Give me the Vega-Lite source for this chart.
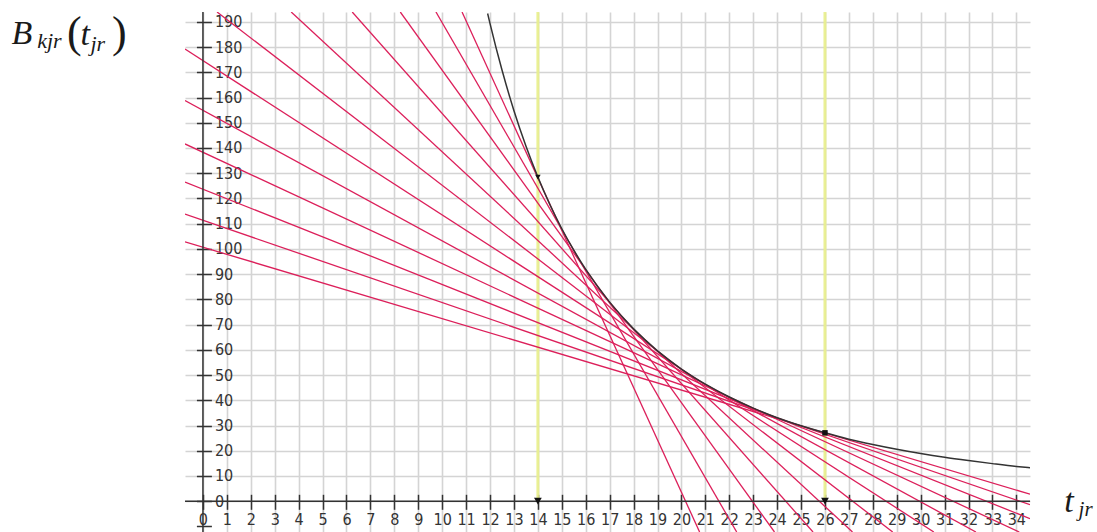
{
  "$schema": "https://vega.github.io/schema/vega-lite/v6.json",
  "autosize": "none",
  "width": 845,
  "height": 520,
  "padding": {"left": 185, "top": 12, "right": 67, "bottom": 0},
  "background": "white",
  "config": {"view": {"stroke": null}},
  "datasets": {
    "curve": [
      {"t": 11.9, "B": 193.3}, {"t": 12, "B": 189.3}, {"t": 12.5, "B": 170.9}, {"t": 13, "B": 154.8},
      {"t": 13.5, "B": 140.8}, {"t": 14, "B": 128.5}, {"t": 14.5, "B": 117.6}, {"t": 15, "B": 108.0},
      {"t": 15.5, "B": 99.5}, {"t": 16, "B": 91.9}, {"t": 17, "B": 78.9}, {"t": 18, "B": 68.3},
      {"t": 19, "B": 59.6}, {"t": 20, "B": 52.4}, {"t": 21, "B": 46.4}, {"t": 22, "B": 41.3},
      {"t": 23, "B": 36.9}, {"t": 24, "B": 33.1}, {"t": 25, "B": 29.9}, {"t": 26, "B": 27.1},
      {"t": 27, "B": 24.6}, {"t": 28, "B": 22.5}, {"t": 29, "B": 20.6}, {"t": 30, "B": 18.9},
      {"t": 31, "B": 17.4}, {"t": 32, "B": 16.1}, {"t": 33, "B": 14.9}, {"t": 34, "B": 13.8},
      {"t": 34.57, "B": 13.3}
    ],
    "tangents": [
      {"line": 1, "t": 10.83, "B": 193.9}, {"line": 1, "t": 20.76, "B": -12.2},
      {"line": 2, "t": 9.74, "B": 193.9}, {"line": 2, "t": 22.31, "B": -12.2},
      {"line": 3, "t": 8.25, "B": 193.9}, {"line": 3, "t": 23.89, "B": -12.2},
      {"line": 4, "t": 6.24, "B": 193.9}, {"line": 4, "t": 25.5, "B": -12.2},
      {"line": 5, "t": 3.69, "B": 193.9}, {"line": 5, "t": 27.15, "B": -12.2},
      {"line": 6, "t": 0.59, "B": 193.9}, {"line": 6, "t": 28.83, "B": -12.2},
      {"line": 7, "t": -0.75, "B": 179.2}, {"line": 7, "t": 30.55, "B": -12.2},
      {"line": 8, "t": -0.75, "B": 158.8}, {"line": 8, "t": 32.31, "B": -12.2},
      {"line": 9, "t": -0.75, "B": 141.6}, {"line": 9, "t": 34.12, "B": -12.2},
      {"line": 10, "t": -0.75, "B": 126.5}, {"line": 10, "t": 34.57, "B": -6.9},
      {"line": 11, "t": -0.75, "B": 113.8}, {"line": 11, "t": 34.57, "B": -1.4},
      {"line": 12, "t": -0.75, "B": 102.8}, {"line": 12, "t": 34.57, "B": 2.8}
    ],
    "marks": [
      {"t": 14, "B": 128.5, "kind": "arrow"},
      {"t": 26, "B": 27.1, "kind": "point"}
    ],
    "one": [{}]
  },
  "layer": [
    {
      "data": {"name": "marks"},
      "mark": {"type": "rule", "color": "#e9f08c", "strokeWidth": 3, "opacity": 0.9},
      "encoding": {
        "x": {"field": "t", "type": "quantitative", "scale": {"domain": [-0.75, 34.57], "nice": false}, "axis": null},
        "y": {"datum": 0, "type": "quantitative", "scale": {"domain": [-12.2, 193.9], "nice": false}, "axis": null},
        "y2": {"datum": 193.9}
      }
    },
    {
      "data": {"name": "tangents"},
      "mark": {"type": "line", "color": "#dc1f5a", "strokeWidth": 1.3, "clip": true},
      "encoding": {
        "x": {"field": "t", "type": "quantitative", "scale": {"domain": [-0.75, 34.57], "nice": false},
          "axis": {"orient": "bottom", "offset": -37.7, "values": [0,1,2,3,4,5,6,7,8,9,10,11,12,13,14,15,16,17,18,19,20,21,22,23,24,25,26,27,28,29,30,31,32,33,34],
            "grid": false, "domain": false, "ticks": true, "tickSize": 15, "tickWidth": 1.5, "tickColor": "#333",
            "labels": true, "labelFont": "DejaVu Sans Condensed", "labelFontSize": 16, "labelColor": "#333", "labelPadding": 2,
            "labelOverlap": false, "title": null}},
        "y": {"field": "B", "type": "quantitative", "scale": {"domain": [-12.2, 193.9], "nice": false},
          "axis": {"orient": "right", "offset": -833.6, "values": [-10,0,10,20,30,40,50,60,70,80,90,100,110,120,130,140,150,160,170,180,190],
            "grid": false, "domain": false, "ticks": true, "tickSize": 15, "tickWidth": 1.5, "tickColor": "#333",
            "labels": true, "labelFont": "DejaVu Sans Condensed", "labelFontSize": 16, "labelColor": "#333", "labelPadding": 3,
            "labelOverlap": false, "labelExpr": "datum.value < 0 ? '' : datum.label", "title": null}},
        "detail": {"field": "line", "type": "nominal"}
      }
    },
    {
      "data": {"name": "one"},
      "mark": {"type": "rule", "color": "#333", "strokeWidth": 1.5},
      "encoding": {"y": {"datum": 0, "type": "quantitative", "scale": {"domain": [-12.2, 193.9], "nice": false}, "axis": null}}
    },
    {
      "data": {"name": "one"},
      "mark": {"type": "rule", "color": "#333", "strokeWidth": 1.5},
      "encoding": {"x": {"datum": 0, "type": "quantitative", "scale": {"domain": [-0.75, 34.57], "nice": false}, "axis": null}}
    },
    {
      "data": {"name": "curve"},
      "mark": {"type": "line", "color": "#333", "strokeWidth": 1.5, "interpolate": "monotone", "clip": true},
      "encoding": {
        "x": {"field": "t", "type": "quantitative", "scale": {"domain": [-0.75, 34.57], "nice": false},
          "axis": {"grid": true, "gridColor": "#d4d4d4", "gridWidth": 1.6, "values": [0,1,2,3,4,5,6,7,8,9,10,11,12,13,14,15,16,17,18,19,20,21,22,23,24,25,26,27,28,29,30,31,32,33,34],
            "domain": false, "ticks": false, "labels": false, "title": null}},
        "y": {"field": "B", "type": "quantitative", "scale": {"domain": [-12.2, 193.9], "nice": false},
          "axis": {"grid": true, "gridColor": "#d4d4d4", "gridWidth": 1.6, "values": [0,10,20,30,40,50,60,70,80,90,100,110,120,130,140,150,160,170,180,190],
            "domain": false, "ticks": false, "labels": false, "title": null}}
      }
    },
    {
      "data": {"name": "marks"},
      "mark": {"type": "point", "filled": true, "color": "#111", "size": 30, "opacity": 1},
      "encoding": {
        "x": {"field": "t", "type": "quantitative", "scale": {"domain": [-0.75, 34.57], "nice": false}, "axis": null},
        "y": {"field": "B", "type": "quantitative", "scale": {"domain": [-12.2, 193.9], "nice": false}, "axis": null},
        "shape": {"field": "kind", "type": "nominal", "scale": {"domain": ["arrow", "point"], "range": ["triangle-down", "square"]}, "legend": null}
      }
    },
    {
      "data": {"name": "marks"},
      "mark": {"type": "point", "filled": true, "color": "#111", "size": 60, "shape": "triangle-down", "opacity": 1},
      "encoding": {
        "x": {"field": "t", "type": "quantitative", "scale": {"domain": [-0.75, 34.57], "nice": false}, "axis": null},
        "y": {"datum": 0, "type": "quantitative", "scale": {"domain": [-12.2, 193.9], "nice": false}, "axis": null}
      }
    },
    {
      "data": {"name": "one"},
      "mark": {"type": "text", "text": "B", "font": "Liberation Serif", "fontStyle": "italic", "fontSize": 34, "color": "#1a1a1a", "align": "left", "baseline": "alphabetic"},
      "encoding": {"x": {"datum": -8.0, "type": "quantitative", "axis": null}, "y": {"datum": 181.3, "type": "quantitative", "axis": null}}
    },
    {
      "data": {"name": "one"},
      "mark": {"type": "text", "text": "kjr", "font": "Liberation Serif", "fontStyle": "italic", "fontSize": 22, "color": "#1a1a1a", "align": "left", "baseline": "alphabetic"},
      "encoding": {"x": {"datum": -6.93, "type": "quantitative", "axis": null}, "y": {"datum": 179.6, "type": "quantitative", "axis": null}}
    },
    {
      "data": {"name": "one"},
      "mark": {"type": "text", "text": "(", "font": "Liberation Serif", "fontSize": 44, "color": "#1a1a1a", "align": "left", "baseline": "alphabetic"},
      "encoding": {"x": {"datum": -5.68, "type": "quantitative", "axis": null}, "y": {"datum": 180.0, "type": "quantitative", "axis": null}}
    },
    {
      "data": {"name": "one"},
      "mark": {"type": "text", "text": "t", "font": "Liberation Serif", "fontStyle": "italic", "fontSize": 34, "color": "#1a1a1a", "align": "left", "baseline": "alphabetic"},
      "encoding": {"x": {"datum": -5.12, "type": "quantitative", "axis": null}, "y": {"datum": 180.8, "type": "quantitative", "axis": null}}
    },
    {
      "data": {"name": "one"},
      "mark": {"type": "text", "text": "jr", "font": "Liberation Serif", "fontStyle": "italic", "fontSize": 22, "color": "#1a1a1a", "align": "left", "baseline": "alphabetic"},
      "encoding": {"x": {"datum": -4.7, "type": "quantitative", "axis": null}, "y": {"datum": 178.3, "type": "quantitative", "axis": null}}
    },
    {
      "data": {"name": "one"},
      "mark": {"type": "text", "text": ")", "font": "Liberation Serif", "fontSize": 44, "color": "#1a1a1a", "align": "left", "baseline": "alphabetic"},
      "encoding": {"x": {"datum": -3.8, "type": "quantitative", "axis": null}, "y": {"datum": 180.0, "type": "quantitative", "axis": null}}
    },
    {
      "data": {"name": "one"},
      "mark": {"type": "text", "text": "t", "font": "Liberation Serif", "fontStyle": "italic", "fontSize": 34, "color": "#1a1a1a", "align": "left", "baseline": "alphabetic"},
      "encoding": {"x": {"datum": 36.0, "type": "quantitative", "axis": null}, "y": {"datum": -4.2, "type": "quantitative", "axis": null}}
    },
    {
      "data": {"name": "one"},
      "mark": {"type": "text", "text": "jr", "font": "Liberation Serif", "fontStyle": "italic", "fontSize": 21, "color": "#1a1a1a", "align": "left", "baseline": "alphabetic"},
      "encoding": {"x": {"datum": 36.6, "type": "quantitative", "axis": null}, "y": {"datum": -6.0, "type": "quantitative", "axis": null}}
    }
  ],
  "resolve": {"axis": {"x": "independent", "y": "independent"}}
}
